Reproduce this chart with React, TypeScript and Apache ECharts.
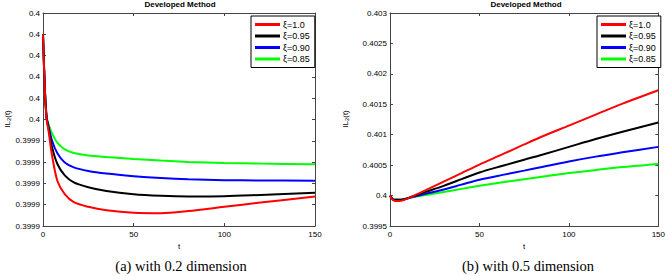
import React, { useEffect, useRef } from "react";
import * as echarts from "echarts";

// ---------- data ----------
const seriesNames = ["ξ=1.0", "ξ=0.95", "ξ=0.90", "ξ=0.85"];
const seriesColors = ["#ff0000", "#000000", "#0000ff", "#00ff00"];

// (a) with 0.2 dimension
const tLeft = [0, 1, 2, 3, 5, 8, 12, 17, 25, 35, 50, 65, 80, 100, 120, 150];
const leftRed = [0.39999, 0.399964, 0.39995, 0.399945, 0.399933, 0.399921, 0.399915, 0.3999112, 0.399909, 0.3999074, 0.3999062, 0.399906, 0.399907, 0.399909, 0.399911, 0.3999138];
const leftBlack = [0.39999, 0.3999645, 0.3999505, 0.399946, 0.399937, 0.399929, 0.3999238, 0.3999205, 0.3999182, 0.3999164, 0.3999149, 0.3999142, 0.3999139, 0.399914, 0.3999146, 0.3999156];
const leftBlue = [0.39999, 0.399965, 0.399951, 0.399947, 0.39994, 0.399934, 0.3999298, 0.3999275, 0.3999258, 0.3999246, 0.3999234, 0.3999225, 0.3999219, 0.3999215, 0.3999214, 0.3999213];
const leftGreen = [0.39999, 0.3999655, 0.3999515, 0.399948, 0.3999435, 0.399939, 0.399936, 0.3999343, 0.3999331, 0.3999324, 0.3999315, 0.3999307, 0.3999301, 0.3999296, 0.3999293, 0.399929];
const leftYLabels = ["0.3999", "0.3999", "0.3999", "0.3999", "0.3999", "0.4", "0.4", "0.4", "0.4", "0.4", "0.4"];

// (b) with 0.5 dimension
const tRight = [0, 1, 2, 3, 5, 8, 12, 20, 30, 40, 50, 63, 75, 85, 100, 115, 130, 150];
const rightRed = [0.4, 0.39995, 0.39992, 0.39991, 0.39991, 0.39993, 0.39998, 0.40009, 0.40023, 0.40037, 0.40051, 0.40068, 0.40084, 0.40097, 0.40115, 0.40133, 0.40151, 0.40173];
const rightBlack = [0.4, 0.39996, 0.39993, 0.39993, 0.39993, 0.39994, 0.39998, 0.40006, 0.40016, 0.40027, 0.40038, 0.40049, 0.40059, 0.40067, 0.4008, 0.40093, 0.40105, 0.4012];
const rightBlue = [0.4, 0.39996, 0.39993, 0.39993, 0.39993, 0.39994, 0.39997, 0.40003, 0.4001, 0.40018, 0.40026, 0.40034, 0.40041, 0.40047, 0.40056, 0.40064, 0.40071, 0.4008];
const rightGreen = [0.4, 0.39996, 0.39993, 0.39993, 0.39993, 0.39994, 0.39997, 0.40001, 0.40006, 0.40011, 0.40016, 0.40022, 0.40027, 0.40031, 0.40037, 0.40042, 0.40047, 0.40052];
const rightYLabels = ["0.3995", "0.4", "0.4005", "0.401", "0.4015", "0.402", "0.4025", "0.403"];

const xTickLabels = ["0", "50", "100", "150"];
const titleText = "Developed Method";
const captions = ["(a) with 0.2 dimension", "(b) with 0.5 dimension"];

const leftMin = 0.3999, leftMax = 0.4, leftInt = 0.00001;
const rightMin = 0.3995, rightMax = 0.403, rightInt = 0.0005;

export default function App() {
  const ref = useRef<HTMLDivElement>(null);
  useEffect(() => {
    document.body.style.margin = "0";
    const chart = echarts.init(ref.current!, null, { renderer: "svg" });
    const font = "Liberation Sans, Arial, sans-serif";
    const axisColor = "#444";
    const grids = [
      { left: 43, top: 13, width: 272, height: 213 },
      { left: 390, top: 13, width: 272, height: 213 },
    ];
    const mkX = (gi: number, pos: "bottom" | "top") => ({
      type: "value",
      gridIndex: gi,
      position: pos,
      min: 0,
      max: 150,
      interval: 50,
      name: pos === "bottom" ? "t" : "",
      nameLocation: "middle",
      nameGap: 16,
      nameTextStyle: { fontSize: 8, fontFamily: font, color: "#000" },
      axisLine: { show: true, onZero: false, lineStyle: { color: axisColor, width: 1 } },
      axisTick: { show: true, inside: true, length: 3, lineStyle: { color: axisColor } },
      axisLabel: {
        show: pos === "bottom",
        fontSize: 8,
        fontFamily: font,
        color: "#000",
        margin: 4,
        formatter: (v: number) => xTickLabels[Math.round(v / 50)] ?? "",
      },
      splitLine: { show: false },
    });
    const mkY = (gi: number, pos: "left" | "right", min: number, max: number, interval: number, labels: string[]) => ({
      type: "value",
      gridIndex: gi,
      position: pos,
      min,
      max,
      interval,
      axisLine: { show: true, onZero: false, lineStyle: { color: axisColor, width: 1 } },
      axisTick: { show: true, inside: true, length: 3, lineStyle: { color: axisColor } },
      axisLabel: {
        show: pos === "left",
        fontSize: 8,
        fontFamily: font,
        color: "#000",
        margin: 3,
        formatter: (v: number) => labels[Math.round((v - min) / interval)] ?? "",
      },
      splitLine: { show: false },
    });
    const leftSets = [leftRed, leftBlack, leftBlue, leftGreen];
    const rightSets = [rightRed, rightBlack, rightBlue, rightGreen];
    const series: any[] = [];
    leftSets.forEach((vals, i) =>
      series.push({
        type: "line",
        name: seriesNames[i],
        xAxisIndex: 0,
        yAxisIndex: 0,
        data: tLeft.map((t, k) => [t, vals[k]]),
        showSymbol: false,
        smooth: 0.3,
        lineStyle: { color: seriesColors[i], width: 2 },
        itemStyle: { color: seriesColors[i] },
        z: 10 - i,
      })
    );
    rightSets.forEach((vals, i) =>
      series.push({
        type: "line",
        name: seriesNames[i],
        xAxisIndex: 2,
        yAxisIndex: 2,
        data: tRight.map((t, k) => [t, vals[k]]),
        showSymbol: false,
        smooth: 0.3,
        lineStyle: { color: seriesColors[i], width: 2 },
        itemStyle: { color: seriesColors[i] },
        z: 10 - i,
      })
    );
    const mkLegend = (left: number) => ({
      orient: "vertical",
      left,
      top: 16,
      data: seriesNames,
      icon: "rect",
      itemWidth: 25,
      itemHeight: 3,
      itemGap: 0.5,
      padding: [3, 5, 3, 4],
      borderColor: "#000",
      borderWidth: 1,
      borderRadius: 0,
      backgroundColor: "#fff",
      selectedMode: false,
      textStyle: { fontSize: 9, fontFamily: font, color: "#000", lineHeight: 11, padding: [0, 0, 0, -2] },
    });
    const yName = (x: number) => ({
      type: "text",
      x,
      y: 119,
      rotation: Math.PI / 2,
      style: {
        text: "{n|IL}{s|2}{n|(t)}",
        align: "center",
        verticalAlign: "middle",
        rich: {
          n: { fontSize: 8, fontFamily: font, fill: "#000" },
          s: { fontSize: 6, fontFamily: font, fill: "#000", padding: [4, 0, 0, 0] },
        },
      },
    });
    chart.setOption({
      animation: false,
      backgroundColor: "#fff",
      grid: grids.map((g) => ({ ...g, show: false, containLabel: false })),
      xAxis: [mkX(0, "bottom"), mkX(0, "top"), mkX(1, "bottom"), mkX(1, "top")],
      yAxis: [
        mkY(0, "left", leftMin, leftMax, leftInt, leftYLabels),
        mkY(0, "right", leftMin, leftMax, leftInt, leftYLabels),
        mkY(1, "left", rightMin, rightMax, rightInt, rightYLabels),
        mkY(1, "right", rightMin, rightMax, rightInt, rightYLabels),
      ],
      legend: [mkLegend(251), mkLegend(597)],
      series,
      graphic: [
        {
          type: "text",
          x: 180,
          y: 4,
          style: { text: titleText, align: "center", verticalAlign: "middle", fontSize: 8, fontWeight: "bold", fontFamily: font, fill: "#000" },
        },
        {
          type: "text",
          x: 526,
          y: 4,
          style: { text: titleText, align: "center", verticalAlign: "middle", fontSize: 8, fontWeight: "bold", fontFamily: font, fill: "#000" },
        },
        yName(7),
        yName(345),
        {
          type: "text",
          x: 181,
          y: 266,
          style: { text: captions[0], align: "center", verticalAlign: "middle", fontSize: 14.5, fontFamily: "Liberation Serif, Times New Roman, serif", fill: "#000" },
        },
        {
          type: "text",
          x: 528,
          y: 266,
          style: { text: captions[1], align: "center", verticalAlign: "middle", fontSize: 14.5, fontFamily: "Liberation Serif, Times New Roman, serif", fill: "#000" },
        },
      ],
    });
    return () => chart.dispose();
  }, []);
  return <div ref={ref} style={{ width: 668, height: 276 }} />;
}
